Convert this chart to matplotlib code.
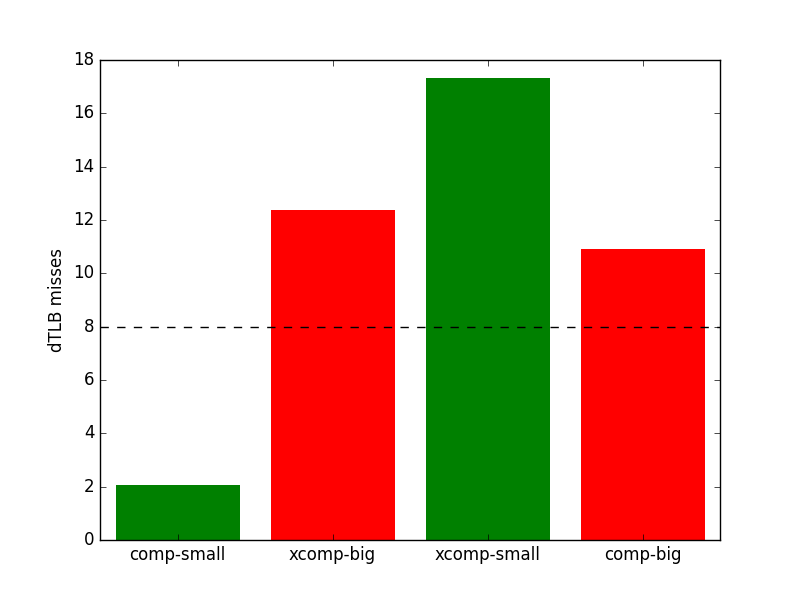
import matplotlib
matplotlib.use("Agg")
import matplotlib.pyplot as plt

plt.style.use("classic")

categories = ["comp-small", "xcomp-big", "xcomp-small", "comp-big"]
values = [2.07, 12.36, 17.31, 10.92]
colors = ["green", "red", "green", "red"]
baseline = 8

fig = plt.figure(figsize=(8, 6), dpi=100)
ax = fig.add_subplot(111)
x = list(range(len(categories)))
ax.bar(x, values, width=0.8, align="center", color=colors, linewidth=0)
ax.axhline(baseline, color="black", linestyle="--")
ax.set_xlim(-0.5, len(categories) - 0.5)
ax.set_ylim(0, 18)
ax.set_xticks(x)
ax.set_xticklabels(categories)
ax.set_ylabel("dTLB misses")
fig.savefig("out.png", dpi=100)
